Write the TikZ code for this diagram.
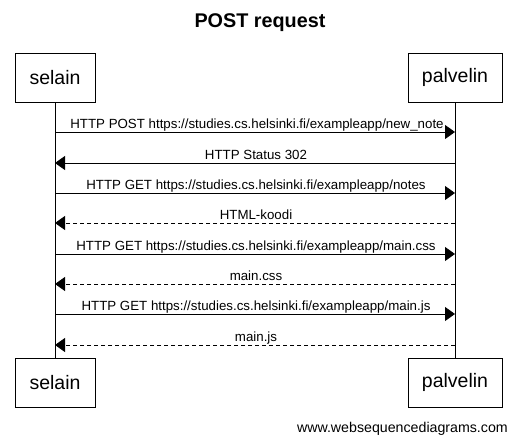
\documentclass[tikz,border=0pt]{standalone}
\usepackage{fontspec}
\setmainfont{Liberation Sans}
\usetikzlibrary{arrows.meta}
\begin{document}
\begin{tikzpicture}[x=1pt,y=-1pt,
  actor/.style={draw,line width=0.8pt,minimum width=80pt,minimum height=49pt,inner sep=0pt,font=\fontsize{19.5}{22}\selectfont},
  msg/.style={line width=0.8pt,-{Triangle[length=10pt,width=14pt]}},
  reply/.style={msg,dash pattern=on 4pt off 3pt},
  lbl/.style={anchor=base,inner sep=0pt,font=\fontsize{13.3}{15}\selectfont},
  life/.style={line width=0.8pt}]
\useasboundingbox (0,0) rectangle (517,442);
\node[font=\bfseries\fontsize{19.8}{23}\selectfont] (title) at (260,23) {POST request};
\node[actor] (s1) at (55,77.5) {selain};
\node[actor,minimum width=94pt] (p1) at (455,77.5) {palvelin};
\node[actor] (s2) at (55,382.5) {selain};
\node[actor,minimum width=94pt] (p2) at (455,382.5) {palvelin};
\draw[life] (s1.south) -- (s2.north);
\draw[life] (p1.south) -- (p2.north);
\foreach \n/\y in {a/132,b/163,c/193,d/223,e/254,f/284,g/314,h/345}{
  \coordinate (s\n) at (55,\y);
  \coordinate (p\n) at (455,\y);
}
\draw[msg] (sa) -- (pa);
\node[lbl] (la) at (257,128) {HTTP POST https://studies.cs.helsinki.fi/exampleapp/new\_note};
\draw[msg] (pb) -- (sb);
\node[lbl] (lb) at (256,159) {HTTP Status 302};
\draw[msg] (sc) -- (pc);
\node[lbl] (lc) at (256,189) {HTTP GET https://studies.cs.helsinki.fi/exampleapp/notes};
\draw[reply] (pd) -- (sd);
\node[lbl] (ld) at (256,219) {HTML-koodi};
\draw[msg] (se) -- (pe);
\node[lbl] (le) at (256,250) {HTTP GET https://studies.cs.helsinki.fi/exampleapp/main.css};
\draw[reply] (pf) -- (sf);
\node[lbl] (lf) at (256,280) {main.css};
\draw[msg] (sg) -- (pg);
\node[lbl] (lg) at (256,310) {HTTP GET https://studies.cs.helsinki.fi/exampleapp/main.js};
\draw[reply] (ph) -- (sh);
\node[lbl] (lh) at (256,341) {main.js};
\node[anchor=base east,inner sep=0pt,font=\fontsize{14.2}{16}\selectfont] (foot) at (508,432) {www.websequencediagrams.com};
\end{tikzpicture}
\end{document}
